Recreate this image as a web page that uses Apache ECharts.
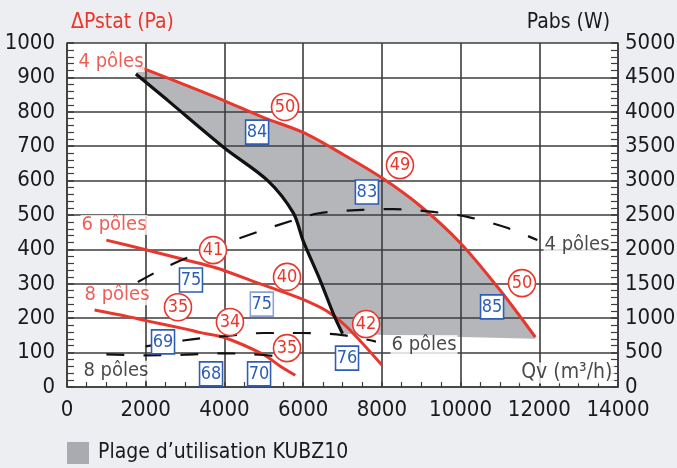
<!DOCTYPE html>
<html>
<head>
<meta charset="utf-8">
<script src="https://cdn.jsdelivr.net/npm/echarts@6/dist/echarts.min.js"></script>
<style>
  html, body { margin: 0; padding: 0; background: #eceef2; }
  #chart { width: 677px; height: 468px; }
</style>
</head>
<body>
<div id="chart"></div>
<script>
// Fan curves: static pressure (Pa) against air flow Qv (m3/h)
const curve4PolesPa = [[1850,930],[3000,878],[4000,832],[5000,783],[6000,740],[7000,677],[8000,608],[9000,524],[10000,418],[11000,282],[11900,145]];
const curve6PolesPa = [[1000,427],[2000,399],[3000,370],[3800,346],[5000,296],[5900,259],[6600,221],[7100,176],[8000,64]];
const curve8PolesPa = [[700,224],[1500,206],[2000,193],[3000,169],[3400,158],[4000,144],[5000,94],[5400,62],[5800,34]];
// Left limit of the operating range (black line)
const rangeLimitPa = [[1750,910],[2550,834],[4000,695],[5100,600],[5750,506],[6000,425],[6430,311],[6760,215],[7000,155]];
// Lower edge of the operating range, from right to left
const rangeBottomPa = [[11900,140],[9500,147],[7000,155]];

// Absorbed power curves (W), right axis
const power4PolesW = [[1800,1525],[2500,1740],[3300,1935],[4200,2125],[5400,2360],[6400,2525],[7500,2575],[8300,2585],[9300,2545],[10200,2470],[11200,2310],[11950,2135]];
const power6PolesW = [[2000,590],[3000,680],[4000,740],[5000,785],[6000,785],[7000,755],[7850,660]];
const power8PolesW = [[1000,475],[2000,460],[3000,470],[4000,490],[5000,465],[5300,445]];

// Circled efficiency values and boxed sound levels: [Qv, Pa, text]
const efficiencyMarks = [[5540,814,'50'],[8460,645,'49'],[11560,302,'50'],[3710,398,'41'],[5590,320,'40'],[7600,183,'42'],[2820,232,'35'],[4140,189,'34'],[5590,113,'35']];
const soundMarks = [[4830,741,'84'],[7620,567,'83'],[10800,233,'85'],[3150,311,'75'],[7115,84,'76'],[2440,131,'69'],[3660,38,'68'],[4880,38,'70']];
const soundMarksFaint = [[4950,241,'75']];

// Curve names written on the chart: [text, Qv, Pa]
const redTags = [['4 pôles',254,945],['6 pôles',330,471],['8 pôles',406,267]];
const blackTags = [['8 pôles',380,47],['6 pôles',8207,122],['4 pôles',12095,413]];

// Axis ranges: [min, max, labelled step, small ticks per step]
const qvRange = [0, 14000, 2000, 4];
const paRange = [0, 1000, 100, 5];
const wRange = [0, 5000, 500, 5];

const RED = '#e8372c';
const BLUE = '#2d5db4';
const GRAY = '#b4b6ba';
const INK = '#1a1a1a';
const GRID = '#3d3d3d';
const FONT = '"Liberation Sans Narrow", "DejaVu Sans Condensed", "Noto Sans", sans-serif';
const RANGE_NAME = 'Plage d’utilisation KUBZ10';

// Operating range polygon: top = 4-pole curve, bottom edge, then the limit line back up
const usageRange = curve4PolesPa.concat(rangeBottomPa, rangeLimitPa.slice().reverse());

const chart = echarts.init(document.getElementById('chart'), null, { renderer: 'canvas' });

function curve(data, color, yIndex, dashed, width) {
  return {
    type: 'line', data: data, yAxisIndex: yIndex, smooth: 0.3, symbol: 'none', z: 3,
    lineStyle: { color: color, width: width, type: dashed ? [18, 19] : 'solid', cap: 'butt' },
    silent: true
  };
}

function marks(list, shape, size, border, textColor) {
  return {
    type: 'scatter', z: 5, silent: true,
    data: list.map(m => ({ value: [m[0], m[1]], name: m[2] })),
    symbol: shape, symbolSize: size,
    itemStyle: { color: '#ffffff', borderColor: border, borderWidth: 1.6, opacity: 1 },
    label: { show: true, position: 'inside', formatter: p => p.name, color: textColor, fontSize: 18, fontFamily: FONT }
  };
}

function tags(list, color) {
  return {
    type: 'scatter', z: 4, silent: true,
    data: list.map(t => ({ value: [t[1], t[2]], name: t[0] })),
    symbol: 'rect', symbolSize: 1, itemStyle: { color: 'rgba(0,0,0,0)' },
    label: { show: true, position: 'right', distance: 0, formatter: p => p.name, color: color,
             fontSize: 20, fontFamily: FONT, backgroundColor: '#ffffff', padding: [0, 1] }
  };
}

const plain = v => String(v);

function valueAxis(range, position, labelMargin, tickLen, grid) {
  return {
    type: 'value', min: range[0], max: range[1], interval: range[2], position: position,
    axisLine: { show: true, lineStyle: { color: GRID, width: 1.6 } },
    axisTick: { show: true, inside: true, length: tickLen, lineStyle: { color: GRID, width: 1.6 } },
    minorTick: { show: true, splitNumber: range[3], length: tickLen, lineStyle: { color: GRID, width: 1.2 } },
    axisLabel: { margin: labelMargin, fontSize: 22, fontFamily: FONT, color: INK, formatter: plain },
    splitLine: { show: grid, lineStyle: { color: GRID, width: 1.6 } }
  };
}

chart.setOption({
  backgroundColor: '#eceef2',
  animation: false,
  title: [
    { text: 'ΔPstat (Pa)', left: 71, top: 12, padding: 0,
      textStyle: { color: RED, fontSize: 21, fontWeight: 'normal', fontFamily: FONT } },
    { text: 'Pabs (W)', right: 67, top: 12, padding: 0,
      textStyle: { color: INK, fontSize: 21, fontWeight: 'normal', fontFamily: FONT } }
  ],
  grid: { left: 67, right: 59, top: 43, bottom: 81, containLabel: false, outerBoundsMode: 'none' },
  legend: {
    left: 62, top: 437, itemWidth: 22, itemHeight: 22, selectedMode: false,
    data: [{ name: RANGE_NAME, icon: 'rect', itemStyle: { color: '#a9abb0' } }],
    textStyle: { fontSize: 21, fontFamily: FONT, color: INK, padding: [0, 0, 0, 4] }
  },
  xAxis: valueAxis(qvRange, 'bottom', 12, 5, true),
  yAxis: [
    valueAxis(paRange, 'left', 12, 7, true),
    valueAxis(wRange, 'right', 7, 7, false)
  ],
  series: [
    {
      // White plot area plus the grey operating range, kept beneath the axes
      name: RANGE_NAME, type: 'custom', z: -1, silent: true,
      itemStyle: { color: GRAY },
      data: usageRange,
      encode: { x: 0, y: 1 },
      renderItem: function (params, api) {
        if (params.dataIndex !== 0) return null;
        const tl = api.coord([qvRange[0], paRange[1]]);
        const br = api.coord([qvRange[1], paRange[0]]);
        const pts = usageRange.map(p => api.coord(p));
        return {
          type: 'group',
          children: [
            { type: 'rect', shape: { x: tl[0], y: tl[1], width: br[0] - tl[0], height: br[1] - tl[1] },
              style: { fill: '#ffffff' } },
            { type: 'polygon', shape: { points: pts }, style: { fill: GRAY } }
          ]
        };
      }
    },
    curve(curve4PolesPa, RED, 0, false, 3),
    curve(curve6PolesPa, RED, 0, false, 3),
    curve(curve8PolesPa, RED, 0, false, 3),
    curve(rangeLimitPa, '#111111', 0, false, 3.2),
    curve(power4PolesW, '#111111', 1, true, 2.2),
    curve(power6PolesW, '#111111', 1, true, 2.2),
    curve(power8PolesW, '#111111', 1, true, 2.2),
    marks(efficiencyMarks, 'circle', 27, RED, RED),
    marks(soundMarks, 'rect', [23, 24], BLUE, BLUE),
    marks(soundMarksFaint, 'rect', [23, 24], '#8aa3d6', BLUE),
    tags(redTags, RED),
    tags(blackTags, INK),
    {
      type: 'scatter', z: 4, silent: true,
      data: [{ value: [13920, 41], name: 'Qv (m³/h)' }],
      symbol: 'rect', symbolSize: 1, itemStyle: { color: 'rgba(0,0,0,0)' },
      label: { show: true, position: 'left', distance: 0, formatter: p => p.name, color: INK,
               fontSize: 21, fontFamily: FONT, backgroundColor: '#ffffff', padding: [0, 2] }
    }
  ]
});
</script>
</body>
</html>
